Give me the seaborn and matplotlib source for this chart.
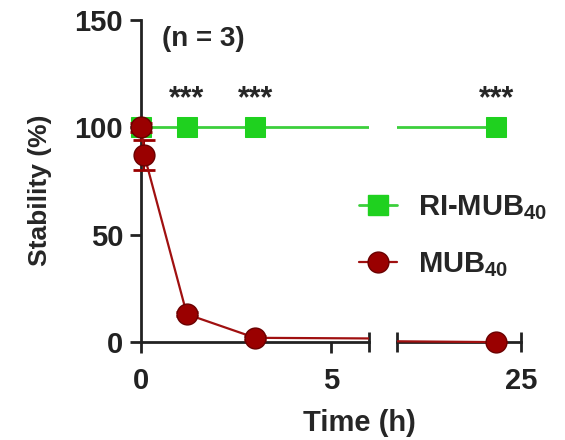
import matplotlib
matplotlib.use("Agg")
import matplotlib.pyplot as plt
import seaborn as sns
import pandas as pd
from matplotlib.lines import Line2D

# data
time_ri = [0, 1.2, 3, 24]
stab_ri = [100, 100, 100, 100]
time_mub = [0, 0.08, 1.2, 3, 24]
stab_mub = [100, 87, 13, 2, 0]
err_mub = [2, 7, 1, 1, 0]
star_times = [1.2, 3, 24]
labels = ["RI-MUB$_{40}$", "MUB$_{40}$"]

sns.set_theme(style="white")
plt.rcParams["font.family"] = ["Liberation Sans", "DejaVu Sans"]
plt.rcParams["font.weight"] = "bold"
plt.rcParams["mathtext.fontset"] = "custom"
plt.rcParams["mathtext.rm"] = "Liberation Sans:bold"
plt.rcParams["mathtext.it"] = "Liberation Sans:bold"
plt.rcParams["mathtext.bf"] = "Liberation Sans:bold"
plt.rcParams["mathtext.default"] = "rm"

green = "#1fd11f"
green_line = "#3ccf3c"
red = "#9a0000"
red_line = "#a01010"
FS = 21
AX_COL = "#222222"

df_ri = pd.DataFrame({"t": time_ri, "s": stab_ri})
df_mub = pd.DataFrame({"t": time_mub, "s": stab_mub})

fig = plt.figure(figsize=(5.65, 4.4), dpi=100)
W, H = 565, 440
y_bot, y_top = 355, 20
ax1 = fig.add_axes([128 / W, 1 - y_bot / H, (369 - 128) / W, (y_bot - y_top) / H])
ax2 = fig.add_axes([397 / W, 1 - y_bot / H, (521 - 397) / W, (y_bot - y_top) / H], sharey=ax1)

for ax in (ax1, ax2):
    sns.lineplot(data=df_ri, x="t", y="s", ax=ax, color=green_line, lw=2,
                 marker="s", markersize=15, markerfacecolor=green,
                 markeredgecolor=green, zorder=3)
    ax.errorbar(time_mub, stab_mub, yerr=err_mub, fmt="none", ecolor=red,
                elinewidth=1.5, capsize=8, capthick=2, zorder=4)
    sns.lineplot(data=df_mub, x="t", y="s", ax=ax, color=red_line, lw=1.6,
                 marker="o", markersize=15, markerfacecolor=red,
                 markeredgecolor="#6a0000", markeredgewidth=1, zorder=5)
    ax.set_xlabel("")
    ax.set_ylabel("")
    for sp in ("top", "right", "left"):
        ax.spines[sp].set_visible(False)
    ax.spines["bottom"].set_position(("data", 0))
    ax.spines["bottom"].set_linewidth(2)
    ax.spines["bottom"].set_color(AX_COL)
    ax.tick_params(axis="x", which="both", colors=AX_COL, width=2, labelsize=FS)

ax1.set_ylim(-6, 150)
ax1.set_xlim(-0.35, 6)
ax1.spines["left"].set_visible(True)
ax1.spines["left"].set_position(("data", 0))
ax1.spines["left"].set_bounds(0, 150)
ax1.spines["left"].set_linewidth(2)
ax1.spines["left"].set_color(AX_COL)
ax1.spines["bottom"].set_bounds(0, 6)
ax1.set_yticks([0, 50, 100, 150])
ax1.tick_params(axis="y", direction="out", length=8, width=2, colors=AX_COL,
                labelsize=FS, pad=5, left=True)
ax1.set_xticks([0, 5])
ax1.set_xticks([6], minor=True)
ax1.tick_params(axis="x", which="major", direction="out", length=8, pad=10, bottom=True)
ax1.tick_params(axis="x", which="minor", direction="inout", length=15, bottom=True)

ax2.set_xlim(20, 25)
ax2.spines["bottom"].set_bounds(20, 25)
ax2.set_xticks([25])
ax2.set_xticks([20], minor=True)
ax2.tick_params(axis="x", which="both", direction="inout", length=15, bottom=True)
ax2.tick_params(axis="x", which="major", pad=10.5)
ax2.tick_params(axis="y", left=False, labelleft=False)

for lbl in ax1.get_xticklabels() + ax1.get_yticklabels() + ax2.get_xticklabels():
    lbl.set_fontweight("bold")

# annotations
ax1.text(0.55, 141, "(n = 3)", fontsize=20, fontweight="bold", va="center", ha="left")
for t in star_times:
    ax = ax1 if t < 6 else ax2
    ax.text(t, 113, "***", fontsize=22, fontweight="bold", ha="center", va="center")

fig.text(40 / W, 1 - 190 / H, "Stability (%)", rotation=90, fontsize=19,
         fontweight="bold", ha="center", va="center")
fig.text(359 / W, 1 - 423 / H, "Time (h)", fontsize=FS, fontweight="bold",
         ha="center", va="center")

handles = [
    Line2D([], [], color=green_line, lw=2, marker="s", markersize=15,
           markerfacecolor=green, markeredgecolor=green),
    Line2D([], [], color=red_line, lw=1.6, marker="o", markersize=15,
           markerfacecolor=red, markeredgecolor="#6a0000"),
]
fig.legend(handles, labels, loc="center left", bbox_to_anchor=(333 / W, 1 - 236 / H),
           frameon=False, handlelength=1.3, labelspacing=0.95,
           handletextpad=0.7, prop={"weight": "bold", "size": FS})

fig.savefig("out.png", dpi=100)
